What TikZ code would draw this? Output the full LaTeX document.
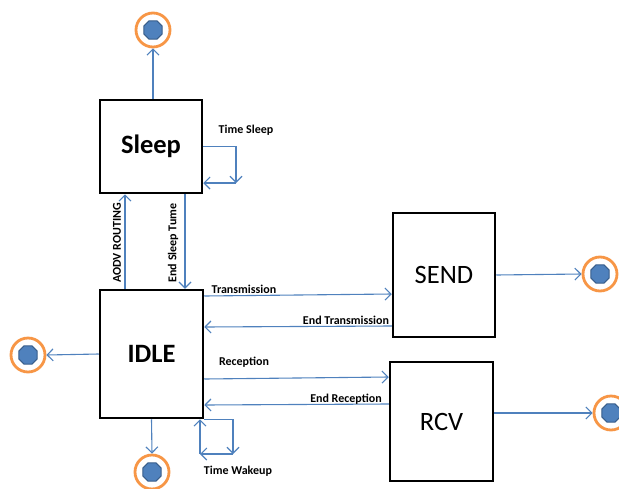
\documentclass[tikz,border=0pt]{standalone}
\usepackage{fontspec}
\setmainfont{Carlito}
\usetikzlibrary{arrows.meta,calc}
\definecolor{lineblue}{RGB}{79,129,189}
\definecolor{ringorange}{RGB}{247,150,70}
\definecolor{octblue}{RGB}{79,129,189}
\definecolor{octdark}{RGB}{56,93,138}
\tikzset{
  statebox/.style={draw=black, line width=2.5pt, inner sep=0pt, fill=white},
  arr/.style={draw=lineblue, line width=1.1pt, -{Straight Barb[length=6pt,width=12pt]}},
  lbl/.style={font=\fontsize{12}{14}\selectfont\bfseries, inner sep=1pt},
  term/.style={circle, draw=ringorange, line width=2.8pt, minimum size=34pt, inner sep=0pt,
    path picture={
      \filldraw[fill=octblue, draw=octdark, line width=1pt]
        ($(path picture bounding box.center)+(22.5:10pt)$)
        -- ($(path picture bounding box.center)+(67.5:10pt)$)
        -- ($(path picture bounding box.center)+(112.5:10pt)$)
        -- ($(path picture bounding box.center)+(157.5:10pt)$)
        -- ($(path picture bounding box.center)+(202.5:10pt)$)
        -- ($(path picture bounding box.center)+(247.5:10pt)$)
        -- ($(path picture bounding box.center)+(292.5:10pt)$)
        -- ($(path picture bounding box.center)+(337.5:10pt)$)
        -- cycle;
    }},
}
\begin{document}
\begin{tikzpicture}[x=1pt,y=-1pt]
\useasboundingbox (0,0) rectangle (619,488);

% states
\node[statebox, minimum width=102pt, minimum height=93pt, font=\fontsize{26.5}{30}\selectfont\bfseries] (Sleep) at (151,146.5) {Sleep};
\node[statebox, minimum width=103pt, minimum height=128pt, font=\fontsize{26.5}{30}\selectfont\bfseries] (IDLE) at (151.5,354) {IDLE};
\node[statebox, minimum width=102pt, minimum height=124pt, font=\fontsize{26.5}{30}\selectfont] (SEND) at (444,275) {SEND};
\node[statebox, minimum width=103pt, minimum height=119pt, font=\fontsize{26.5}{30}\selectfont] (RCV) at (441.5,421.5) {RCV};

% terminals
\node[term] (t1) at (153,30) {};
\node[term] (t2) at (152,472) {};
\node[term] (t3) at (28,355) {};
\node[term] (t4) at (600,274) {};
\node[term] (t5) at (611,413) {};

% helper coordinates
\coordinate (sl) at (236,183);
\coordinate (a1) at (125,240);
\coordinate (a2) at (185,240);
\coordinate (w1) at (233,454);
\coordinate (w2) at (200,454);

% Sleep
\draw[arr] (Sleep.north -| t1) -- (t1.south);
\draw[arr] (Sleep.east) -| (sl);
\draw[arr] (sl) -- (Sleep.east |- sl);
\node[lbl] (lTS) at (246,130) {Time Sleep};

% Sleep <-> IDLE
\draw[arr] (IDLE.north -| a1) -- (Sleep.south -| a1);
\node[lbl, rotate=90] (lAODV) at (117,243) {AODV ROUTING};
\draw[arr] (Sleep.south -| a2) -- (IDLE.north -| a2);
\node[lbl, rotate=90] (lEST) at (173,243) {End Sleep Tume};

% IDLE <-> SEND
\draw[arr] ([yshift=58pt]IDLE.east) -- ([yshift=-19pt]SEND.west);
\node[lbl] (lTr) at (244,289) {Transmission};
\draw[arr] ([yshift=-51pt]SEND.west) -- ([yshift=27pt]IDLE.east);
\node[lbl] (lETr) at (346,320) {End Transmission};

% IDLE <-> RCV
\draw[arr] ([yshift=-25pt]IDLE.east) -- ([yshift=44.5pt]RCV.west);
\node[lbl] (lRe) at (244,362) {Reception};
\draw[arr] ([yshift=17.5pt]RCV.west) -- ([yshift=-51pt]IDLE.east);
\node[lbl] (lERe) at (346,399) {End Reception};

% outputs
\draw[arr] (SEND.east) -- (t4.west);
\draw[arr] ([yshift=8.5pt]RCV.east) -- (t5.west |- 0,413);
\draw[arr] (IDLE.west) -- (t3.east);
\draw[arr] (IDLE.south) -- (t2.north);

% Time Wakeup loop
\draw[arr] (IDLE.south east) -| (w1);
\draw[arr] (w1) -- (w2);
\draw[arr] (w2) -- (IDLE.south -| w2);
\node[lbl] (lTW) at (238,471) {Time Wakeup};
\end{tikzpicture}
\end{document}
